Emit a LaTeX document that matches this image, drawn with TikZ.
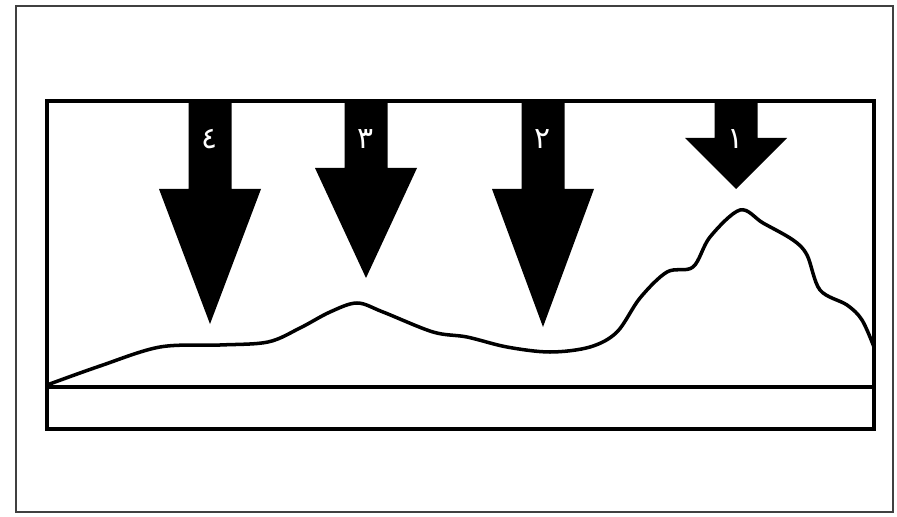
\documentclass[tikz,border=0pt]{standalone}
\usepackage{fontspec}
\newfontfamily\arabicfont[Script=Arabic]{DejaVu Sans}
\TeXXeTstate=1
\usepackage{tikz}

\begin{document}
\begin{tikzpicture}[
    x=0.02cm, y=-0.02cm,
    frame/.style={draw=black!75, line width=1.5pt},
    panel/.style={draw, line width=2.2pt},
    profile/.style={line width=2pt, smooth, tension=0.55},
    digit/.style={text=white, inner sep=0pt, font=\arabicfont\fontsize{17}{17}\selectfont}
  ]
    \useasboundingbox (0,0) rectangle (897,517);
    \draw[frame] (16,6) rectangle (893,512);
    \draw[panel] (47,101) rectangle (874,429);
    \draw[line width=1.8pt] (47,387) -- (874,387);
    % profile
    \draw[profile] plot coordinates {(47,385) (100,366) (160,347) (220,345) (268,342)
      (300,328) (330,312) (357,303) (383,312) (433,332) (467,337) (507,347)
      (550,352) (590,347) (617,332) (640,298) (667,272) (693,267) (710,237)
      (740,210) (763,223) (793,240) (807,255) (820,290) (847,305) (862,320) (874,347)};
    % arrows
    \foreach \cx/\sb/\tip/\num/\name in {210/189/324/٤/four, 366/168/278/٣/three,
        543/189/327/٢/two, 736/138/189/١/one} {
      \fill (\cx-21.5,101) -- (\cx+21.5,101) -- (\cx+21.5,\sb) -- (\cx+51,\sb)
        -- (\cx,\tip) -- (\cx-51,\sb) -- (\cx-21.5,\sb) -- cycle;
      \node[digit] (\name) at (\cx,139) {\beginR\num\endR};
    }
  \end{tikzpicture}
\end{document}
